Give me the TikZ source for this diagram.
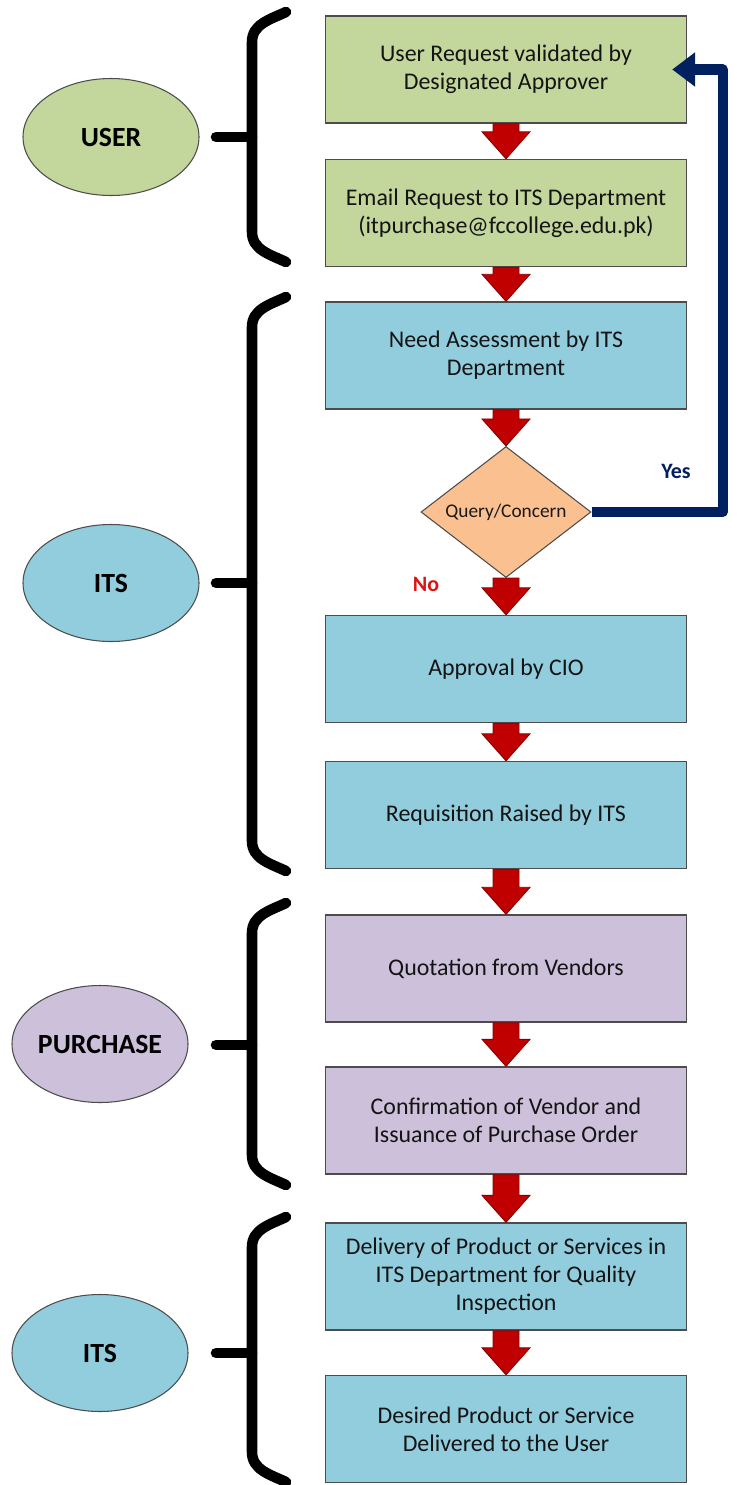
\documentclass[tikz,border=0pt]{standalone}
\usepackage{fontspec}
\setmainfont{Carlito}
\usetikzlibrary{shapes.geometric, arrows.meta, calc}
\definecolor{usergreen}{RGB}{195, 214, 155}
\definecolor{itsblue}{RGB}{146, 205, 221}
\definecolor{buylilac}{RGB}{204, 192, 218}
\definecolor{queryorange}{RGB}{250, 192, 144}
\definecolor{loopnavy}{RGB}{0, 32, 96}
\definecolor{arrowred}{RGB}{192, 0, 0}
\definecolor{nored}{RGB}{220, 20, 20}

\tikzset{
  stepbox/.style={draw=black!70, line width=0.8pt, minimum width=7.22cm, minimum height=2.14cm,
    align=center, text=black!92, font=\fontsize{13.6}{15.9}\selectfont},
  lane/.style={ellipse, draw=black!70, line width=0.6pt, minimum width=3.52cm, minimum height=2.34cm,
    inner sep=0pt, text=black, font=\fontsize{15.8}{18}\selectfont\bfseries},
  bracket/.style={line width=6pt, line cap=round},
}

% fat red arrow from one step down to the next
\newcommand{\flowarrow}[2]{%
  \path[fill=arrowred, draw=arrowred!70!black, line width=0.5pt]
    let \p1=(#1.south), \p2=(#2.north) in
    (\x1-0.26cm,\y1) -- (\x1+0.26cm,\y1) -- (\x1+0.26cm,\y2+0.54cm) -- (\x1+0.48cm,\y2+0.54cm)
    -- (\x2,\y2) -- (\x1-0.48cm,\y2+0.54cm) -- (\x1-0.26cm,\y2+0.54cm) -- cycle;}

% curly bracket of one lane: top, bottom, tick
\newcommand{\lanebrace}[3]{%
  \draw[bracket] (5.72,#1) to[out=205,in=90] (5.04,#1-0.6) -- (5.04,#2+0.6) to[out=-90,in=155] (5.72,#2);
  \draw[bracket] (4.32,#3) -- (5.04,#3);}

\begin{document}
\begin{tikzpicture}
  \useasboundingbox (0,0) rectangle (14.72,-29.7);

  % steps
  \node[stepbox, fill=usergreen] (req) at (10.12,-1.39) {User Request validated by\\Designated Approver};
  \node[stepbox, fill=usergreen] (mail) at (10.12,-4.26) {Email Request to ITS Department\\(itpurchase@fccollege.edu.pk)};
  \node[stepbox, fill=itsblue] (assess) at (10.12,-7.11) {Need Assessment by ITS\\Department};
  \node[diamond, draw=black!70, line width=0.6pt, fill=queryorange, aspect=1.3, minimum width=3.4cm,
    minimum height=2.62cm, inner sep=0pt, text=black!90, font=\fontsize{11}{13}\selectfont] (query) at (10.12,-10.24) {Query/Concern};
  \node[stepbox, fill=itsblue] (cio) at (10.12,-13.38) {Approval by CIO};
  \node[stepbox, fill=itsblue] (requisition) at (10.12,-16.30) {Requisition Raised by ITS};
  \node[stepbox, fill=buylilac] (quote) at (10.12,-19.37) {Quotation from Vendors};
  \node[stepbox, fill=buylilac] (order) at (10.12,-22.41) {Confirmation of Vendor and\\Issuance of Purchase Order};
  \node[stepbox, fill=itsblue] (delivery) at (10.12,-25.53) {Delivery of Product or Services in\\ITS Department for Quality\\Inspection};
  \node[stepbox, fill=itsblue] (handover) at (10.12,-28.58) {Desired Product or Service\\Delivered to the User};

  \foreach \a/\b in {req/mail, mail/assess, assess/query, query/cio, cio/requisition,
    requisition/quote, quote/order, order/delivery, delivery/handover}
    \flowarrow{\a}{\b};

  % query loops back to the approver
  \draw[loopnavy, line width=5.7pt, line join=round, -{Triangle[width=0.66cm, length=0.46cm]}]
    (query.east) -| ([xshift=0.71cm]req.east) -- ([xshift=-0.3cm]req.east);
  \node[text=loopnavy, font=\fontsize{12.5}{14}\selectfont\bfseries] (yes) at (13.52,-9.42) {Yes};
  \node[text=nored, font=\fontsize{12.5}{14}\selectfont\bfseries] (no) at (8.52,-11.68) {No};

  % lanes
  \node[lane, fill=usergreen] (user) at (2.22,-2.74) {USER};
  \node[lane, fill=itsblue] (its) at (2.22,-11.66) {ITS};
  \node[lane, fill=buylilac] (purchase) at (2.0,-20.88) {PURCHASE};
  \node[lane, fill=itsblue] (itsb) at (2.0,-27.06) {ITS};

  \lanebrace{-0.24}{-5.24}{-2.74}
  \lanebrace{-5.94}{-17.42}{-11.66}
  \lanebrace{-18.06}{-23.7}{-20.9}
  \lanebrace{-24.34}{-29.64}{-27.06}
\end{tikzpicture}
\end{document}
